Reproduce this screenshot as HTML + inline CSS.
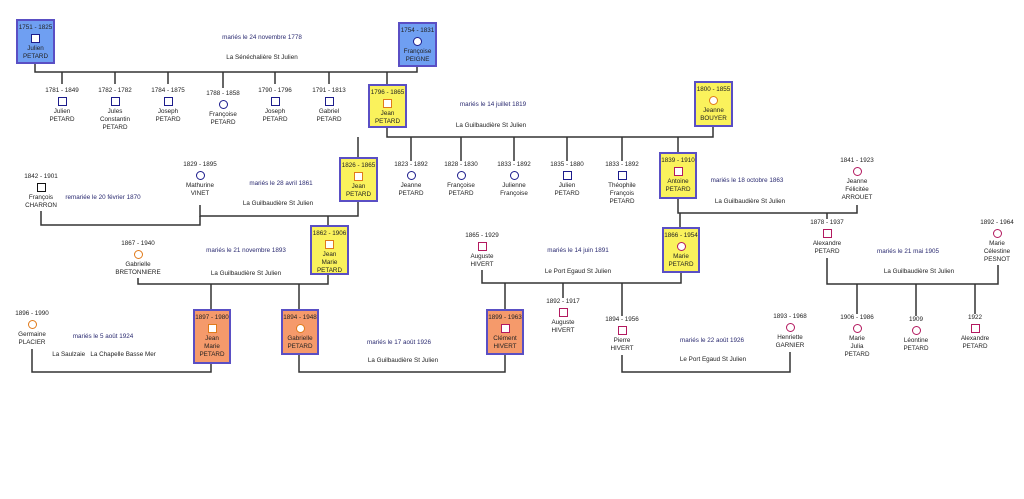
<!DOCTYPE html>
<html><head><meta charset="utf-8">
<style>
body{margin:0;background:#fff;}
#c{position:relative;width:1024px;height:499px;overflow:hidden;font-family:"Liberation Sans",sans-serif;color:#222;}
svg{position:absolute;left:0;top:0;}
.n{position:absolute;width:80px;margin-left:-40px;text-align:center;font-size:6.3px;line-height:8px;}
.ic{width:7px;height:7px;border:1.7px solid #1c1c8c;margin:2px auto 2px;background:#fff;}
.c{border-radius:50%;}
.o{border-color:#e07a1a;}
.m{border-color:#b3195f;}
.k{border-color:#111;}
.bx{position:absolute;border:2px solid #5a4fc4;box-sizing:border-box;text-align:center;font-size:6.3px;line-height:8px;padding-top:3px;}
.bl{background:#6f9ff2;}
.ye{background:#faf25c;}
.or{background:#f59a6b;}
.t{position:absolute;font-size:6.3px;white-space:nowrap;transform:translateX(-50%);}
.t.b{color:#2a2a70;}
</style></head><body><div id="c">
<svg width="1024" height="499" stroke="#333" stroke-width="1.5" fill="none">
<polyline points="35,64 35,72 417,72 417,67"/>
<line x1="62" y1="72" x2="62" y2="84"/><line x1="115" y1="72" x2="115" y2="84"/><line x1="168" y1="72" x2="168" y2="84"/><line x1="223" y1="72" x2="223" y2="88"/><line x1="275" y1="72" x2="275" y2="84"/><line x1="329" y1="72" x2="329" y2="84"/><line x1="387" y1="72" x2="387" y2="84"/>
<polyline points="387,128 387,137 713,137 713,127"/>
<line x1="358" y1="137" x2="358" y2="157"/><line x1="411" y1="137" x2="411" y2="161"/><line x1="461" y1="137" x2="461" y2="161"/><line x1="514" y1="137" x2="514" y2="161"/><line x1="567" y1="137" x2="567" y2="161"/><line x1="622" y1="137" x2="622" y2="161"/><line x1="678" y1="137" x2="678" y2="152"/>
<polyline points="358,202 358,216 200,216 200,205"/>
<line x1="328" y1="216" x2="328" y2="225"/>
<polyline points="41,211 41,225 200,225 200,216"/>
<polyline points="328,275 328,284 138,284 138,278"/>
<line x1="211" y1="284" x2="211" y2="309"/><line x1="299" y1="284" x2="299" y2="309"/>
<polyline points="32,349 32,372 211,372 211,364"/>
<polyline points="299,355 299,372 505,372 505,355"/>
<polyline points="678,199 678,213 857,213 857,205"/>
<line x1="680" y1="213" x2="680" y2="227"/><line x1="827" y1="213" x2="827" y2="219"/>
<polyline points="681,273 681,283 482,283 482,270"/>
<line x1="505" y1="283" x2="505" y2="309"/><line x1="563" y1="283" x2="563" y2="298"/><line x1="622" y1="283" x2="622" y2="316"/>
<polyline points="622,355 622,372 790,372 790,352"/>
<polyline points="827,258 827,284 998,284 998,265"/>
<line x1="857" y1="284" x2="857" y2="314"/><line x1="916" y1="284" x2="916" y2="316"/><line x1="975" y1="284" x2="975" y2="314"/>
</svg>

<!-- boxes -->
<div class="bx bl" style="left:16px;top:19px;width:39px;height:45px">1751 - 1825<div class="ic"></div>Julien<br>PETARD</div>
<div class="bx bl" style="left:398px;top:22px;width:39px;height:45px">1754 - 1831<div class="ic c"></div>Françoise<br>PEIGNE</div>
<div class="bx ye" style="left:368px;top:84px;width:39px;height:44px">1796 - 1865<div class="ic o"></div>Jean<br>PETARD</div>
<div class="bx ye" style="left:694px;top:81px;width:39px;height:46px">1800 - 1855<div class="ic c o"></div>Jeanne<br>BOUYER</div>
<div class="bx ye" style="left:339px;top:157px;width:39px;height:45px">1826 - 1865<div class="ic o"></div>Jean<br>PETARD</div>
<div class="bx ye" style="left:659px;top:152px;width:38px;height:47px">1839 - 1910<div class="ic m"></div>Antoine<br>PETARD</div>
<div class="bx ye" style="left:310px;top:225px;width:39px;height:50px">1862 - 1906<div class="ic o"></div>Jean<br>Marie<br>PETARD</div>
<div class="bx ye" style="left:662px;top:227px;width:38px;height:46px">1866 - 1954<div class="ic c m"></div>Marie<br>PETARD</div>
<div class="bx or" style="left:193px;top:309px;width:38px;height:55px">1897 - 1980<div class="ic o"></div>Jean<br>Marie<br>PETARD</div>
<div class="bx or" style="left:281px;top:309px;width:38px;height:46px">1894 - 1948<div class="ic c o"></div>Gabrielle<br>PETARD</div>
<div class="bx or" style="left:486px;top:309px;width:38px;height:46px">1899 - 1963<div class="ic m"></div>Clément<br>HIVERT</div>

<!-- row1 children -->
<div class="n" style="left:62px;top:87px">1781 - 1849<div class="ic"></div>Julien<br>PETARD</div>
<div class="n" style="left:115px;top:87px">1782 - 1782<div class="ic"></div>Jules<br>Constantin<br>PETARD</div>
<div class="n" style="left:168px;top:87px">1784 - 1875<div class="ic"></div>Joseph<br>PETARD</div>
<div class="n" style="left:223px;top:90px">1788 - 1858<div class="ic c"></div>Françoise<br>PETARD</div>
<div class="n" style="left:275px;top:87px">1790 - 1796<div class="ic"></div>Joseph<br>PETARD</div>
<div class="n" style="left:329px;top:87px">1791 - 1813<div class="ic"></div>Gabriel<br>PETARD</div>

<!-- row2 children -->
<div class="n" style="left:411px;top:161px">1823 - 1892<div class="ic c"></div>Jeanne<br>PETARD</div>
<div class="n" style="left:461px;top:161px">1828 - 1830<div class="ic c"></div>Françoise<br>PETARD</div>
<div class="n" style="left:514px;top:161px">1833 - 1892<div class="ic c"></div>Julienne<br>Françoise</div>
<div class="n" style="left:567px;top:161px">1835 - 1880<div class="ic"></div>Julien<br>PETARD</div>
<div class="n" style="left:622px;top:161px">1833 - 1892<div class="ic"></div>Théophile<br>François<br>PETARD</div>

<div class="n" style="left:41px;top:173px">1842 - 1901<div class="ic k"></div>François<br>CHARRON</div>
<div class="n" style="left:200px;top:161px">1829 - 1895<div class="ic c"></div>Mathurine<br>VINET</div>
<div class="n" style="left:138px;top:240px">1867 - 1940<div class="ic c o"></div>Gabrielle<br>BRETONNIERE</div>
<div class="n" style="left:32px;top:310px">1896 - 1990<div class="ic c o"></div>Germaine<br>PLACIER</div>
<div class="n" style="left:857px;top:157px">1841 - 1923<div class="ic c m"></div>Jeanne<br>Félicitée<br>ARROUET</div>
<div class="n" style="left:827px;top:219px">1878 - 1937<div class="ic m"></div>Alexandre<br>PETARD</div>
<div class="n" style="left:997px;top:219px">1892 - 1964<div class="ic c m"></div>Marie<br>Célestine<br>PESNOT</div>
<div class="n" style="left:482px;top:232px">1865 - 1929<div class="ic m"></div>Auguste<br>HIVERT</div>
<div class="n" style="left:563px;top:298px">1892 - 1917<div class="ic m"></div>Auguste<br>HIVERT</div>
<div class="n" style="left:622px;top:316px">1894 - 1956<div class="ic m"></div>Pierre<br>HIVERT</div>
<div class="n" style="left:790px;top:313px">1893 - 1968<div class="ic c m"></div>Henriette<br>GARNIER</div>
<div class="n" style="left:857px;top:314px">1906 - 1986<div class="ic c m"></div>Marie<br>Julia<br>PETARD</div>
<div class="n" style="left:916px;top:316px">1909<div class="ic c m"></div>Léontine<br>PETARD</div>
<div class="n" style="left:975px;top:314px">1922<div class="ic m"></div>Alexandre<br>PETARD</div>

<!-- texts -->
<div class="t b" style="left:262px;top:34px">mariés le 24 novembre 1778</div>
<div class="t" style="left:262px;top:54px">La Sénéchalière St Julien</div>
<div class="t b" style="left:493px;top:101px">mariés le 14 juillet 1819</div>
<div class="t" style="left:491px;top:122px">La Guilbaudière St Julien</div>
<div class="t b" style="left:103px;top:194px">remariée le 20 février 1870</div>
<div class="t b" style="left:281px;top:180px">mariés le 28 avril 1861</div>
<div class="t" style="left:278px;top:200px">La Guilbaudière St Julien</div>
<div class="t b" style="left:246px;top:247px">mariés le 21 novembre 1893</div>
<div class="t" style="left:246px;top:270px">La Guilbaudière St Julien</div>
<div class="t b" style="left:103px;top:333px">mariés le 5 août 1924</div>
<div class="t" style="left:104px;top:351px">La Saulzaie &nbsp; La Chapelle Basse Mer</div>
<div class="t b" style="left:399px;top:339px">mariés le 17 août 1926</div>
<div class="t" style="left:403px;top:357px">La Guilbaudière St Julien</div>
<div class="t b" style="left:747px;top:177px">mariés le 18 octobre 1863</div>
<div class="t" style="left:750px;top:198px">La Guilbaudière St Julien</div>
<div class="t b" style="left:578px;top:247px">mariés le 14 juin 1891</div>
<div class="t" style="left:578px;top:268px">Le Port Egaud St Julien</div>
<div class="t b" style="left:712px;top:337px">mariés le 22 août 1926</div>
<div class="t" style="left:713px;top:356px">Le Port Egaud St Julien</div>
<div class="t b" style="left:908px;top:248px">mariés le 21 mai 1905</div>
<div class="t" style="left:919px;top:268px">La Guilbaudière St Julien</div>
</div></body></html>
